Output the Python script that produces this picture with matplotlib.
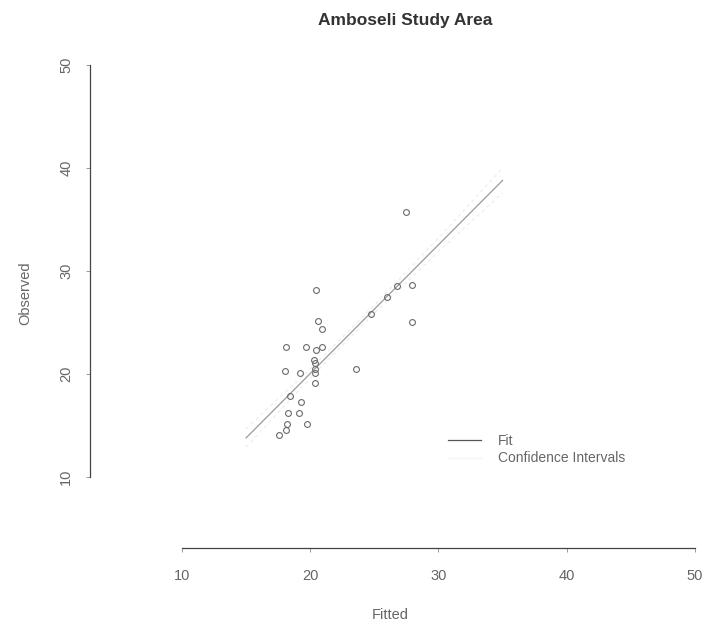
import numpy as np
import matplotlib

matplotlib.use("Agg")
import matplotlib.pyplot as plt
from matplotlib.lines import Line2D

# ===================== Data =====================
fitted = [27.44, 20.45, 26.74, 27.90, 25.95, 24.70, 27.90, 20.58, 20.90,
          18.10, 19.70, 20.90, 20.45, 20.30, 20.35, 23.60, 18.00, 19.20,
          20.40, 20.40, 20.40, 18.40, 19.28, 18.29, 19.15, 19.72, 18.20,
          18.15, 17.60]
observed = [35.76, 28.20, 28.50, 28.67, 27.50, 25.80, 25.10, 25.17, 24.40,
            22.65, 22.65, 22.60, 22.30, 21.36, 21.10, 20.50, 20.30, 20.10,
            20.46, 20.10, 19.10, 17.86, 17.25, 16.20, 16.20, 15.15, 15.15,
            14.60, 14.10]

fit_x = [15, 35]
fit_y = [13.8, 38.8]

ci_x = [15, 20, 25, 30, 35]
ci_lo = [12.9, 19.6, 25.9, 31.9, 37.6]
ci_hi = [14.7, 20.5, 26.7, 33.2, 40.0]

ticks = [10, 20, 30, 40, 50]

# ===================== Figure =====================
W, H = 711, 629
fig = plt.figure(figsize=(W / 100, H / 100), dpi=100)
fig.patch.set_facecolor("white")
plt.rcParams["font.family"] = ["Liberation Sans", "DejaVu Sans"]

# axes placed so that the R-style detached axes land where they are in the picture
ax = fig.add_axes([90 / W, 1 - 548 / H, 615 / W, 488 / H])
ax.set_facecolor("white")
ax.set_xlim(2.83, 50.78)
ax.set_ylim(3.11, 50.49)

grey = "#666666"

# confidence intervals (very faint)
ax.plot(ci_x, ci_lo, color="#ececec", lw=0.8, ls=(0, (3, 3)))
ax.plot(ci_x, ci_hi, color="#ececec", lw=0.8, ls=(0, (3, 3)))

# fit line
ax.plot(fit_x, fit_y, color="#9a9a9a", lw=0.9)

# points
ax.plot(fitted, observed, ls="none", marker="o", ms=4.2, mfc="none",
        mec="#6a6a6a", mew=0.8)

# ===================== Axes =====================
for sp in ["top", "right"]:
    ax.spines[sp].set_visible(False)
for sp in ["left", "bottom"]:
    ax.spines[sp].set_color("#444444")
    ax.spines[sp].set_linewidth(0.9)
    ax.spines[sp].set_bounds(10, 50)

ax.set_xticks(ticks)
ax.set_yticks(ticks)
ax.tick_params(axis="x", length=3, width=0.6, color="#888888", pad=12,
               labelsize=10.5, labelcolor=grey)
ax.tick_params(axis="y", length=3, width=0.6, color="#888888", pad=9,
               labelsize=10.5, labelcolor=grey, labelrotation=90)
for lab in ax.get_yticklabels():
    lab.set_va("center")

fig.text(390 / W, 1 - 615 / H, "Fitted", ha="center", va="center",
         fontsize=10.5, color=grey)
fig.text(25 / W, 1 - 293 / H, "Observed", ha="center", va="center",
         rotation=90, fontsize=10.5, color=grey)
fig.text(405 / W, 1 - 20 / H, "Amboseli Study Area", ha="center",
         va="center", fontsize=12.5, fontweight="bold", color="#333333")

# ===================== Legend =====================
handles = [Line2D([], [], color="#555555", lw=0.9),
           Line2D([], [], color="#f4f4f4", lw=0.9)]
ax.legend(handles, ["Fit", "Confidence Intervals"], loc="upper left",
          bbox_to_anchor=(448 / W, 1 - 434 / H), bbox_transform=fig.transFigure,
          frameon=False, fontsize=10, handlelength=2.4, handletextpad=1.2,
          labelspacing=0.25, labelcolor=grey, borderaxespad=0, borderpad=0)

fig.savefig("out.png", dpi=100, facecolor="white")
